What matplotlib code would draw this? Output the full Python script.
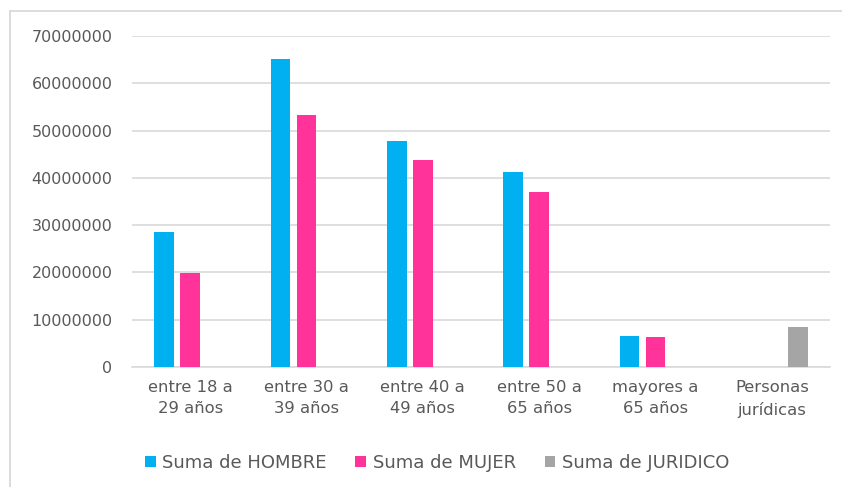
import matplotlib.pyplot as plt
import numpy as np
from matplotlib.patches import Rectangle

categorias = ["entre 18 a\n29 años", "entre 30 a\n39 años", "entre 40 a\n49 años",
              "entre 50 a\n65 años", "mayores a\n65 años", "Personas\njurídicas"]
hombre = [28500000, 65100000, 47800000, 41200000, 6550000, 0]
mujer = [19900000, 53300000, 43800000, 37000000, 6300000, 0]
juridico = [0, 0, 0, 0, 0, 8400000]
series = ["Suma de HOMBRE", "Suma de MUJER", "Suma de JURIDICO"]
colores = ["#00B0F0", "#FF3399", "#A5A5A5"]
yticks = np.arange(0, 70000001, 10000000)

gris = "#595959"
plt.rcParams['font.family'] = ['DejaVu Sans']

fig = plt.figure(figsize=(8.42, 4.87), dpi=100)
ax = fig.add_axes([132 / 842, 0.2464, 698 / 842, 0.6797])

# borde del area del grafico (recortado a la derecha y abajo)
fig.patches.append(Rectangle((10 / 842, -0.1), 1.2, 1 - 11 / 487 + 0.1,
                             transform=fig.transFigure, fill=False,
                             edgecolor="#d9d9d9", linewidth=1.3))

x = np.arange(len(categorias))
ancho = 0.17
paso = 0.224
for i, (vals, nombre, c) in enumerate(zip([hombre, mujer, juridico], series, colores)):
    ax.bar(x + (i - 1) * paso, vals, width=ancho, color=c, label=nombre, zorder=3)

ax.set_xlim(-0.5, len(categorias) - 0.5)
ax.set_ylim(0, 70000000)
ax.set_yticks(yticks)
ax.set_yticklabels([str(v) for v in yticks])
ax.set_xticks(x)
ax.set_xticklabels(categorias, linespacing=1.55)
ax.grid(axis="y", color="#d9d9d9", linewidth=1.2, zorder=0)
ax.tick_params(axis="y", length=0, pad=14, labelsize=11.5, labelcolor=gris)
ax.tick_params(axis="x", length=0, pad=9, labelsize=11.8, labelcolor=gris)
for s in ["top", "right", "left"]:
    ax.spines[s].set_visible(False)
ax.spines["bottom"].set_color("#d9d9d9")
ax.spines["bottom"].set_linewidth(1.2)

leg = fig.legend(loc="center", bbox_to_anchor=(437 / 842, 1 - 463 / 487), ncol=3,
                 frameon=False, handlelength=0.6, handleheight=0.6,
                 handletextpad=0.35, columnspacing=1.6, fontsize=13)
for t in leg.get_texts():
    t.set_color(gris)

fig.savefig("out.png", dpi=100)
